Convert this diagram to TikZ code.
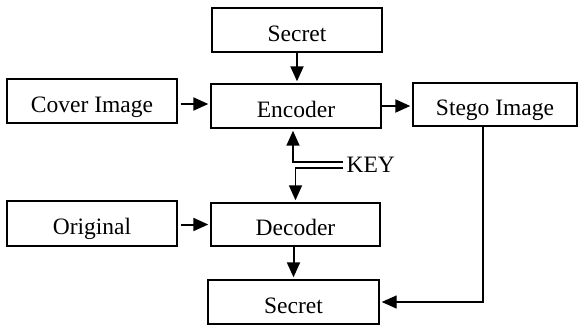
\documentclass[tikz,border=0pt]{standalone}
\usepackage{fontspec}
\setmainfont{Liberation Serif}
\usetikzlibrary{arrows.meta}
\begin{document}
\begin{tikzpicture}[
				x=1pt,y=-1pt,
				every node/.style={font=\fontsize{23.5}{27}\selectfont},
				box/.style={draw,line width=1.4pt,minimum height=44pt,text height=22pt,text depth=0pt,inner sep=0pt},
				arr/.style={line width=2pt,-{Triangle[length=15pt,width=13pt]},shorten >=2pt},
			]
			\useasboundingbox (0,0) rectangle (578,327);

			\node[box,minimum width=170pt] (secretin) at (297,30) {Secret};
			\node[box,minimum width=170pt] (encoder) at (296,106) {Encoder};
			\node[box,minimum width=170pt] (cover) at (92,101) {Cover Image};
			\node[box,minimum width=164pt,minimum height=43pt] (stego) at (495,104.5) {Stego Image};
			\node[box,minimum width=170pt,minimum height=45pt] (original) at (92,223.5) {Original};
			\node[box,minimum width=169pt,minimum height=43pt] (decoder) at (295.5,224.5) {Decoder};
			\node[box,minimum width=171pt] (secretout) at (293.5,302) {Secret};
			\node[anchor=west] (key) at (343,165) {KEY};

			\draw[arr] (secretin.south) -- (secretin.south |- encoder.north);
			\draw[arr,shorten <=3pt] ([yshift=-3pt]cover.east) -- ([yshift=-3pt]cover.east -| encoder.west);
			\draw[arr] (encoder.east) -- (encoder.east -| stego.west);
			\draw[arr,line width=1.6pt] ([yshift=3pt]key.west) -| ([xshift=-3pt]encoder.south);
			\draw[arr,line width=1.6pt] ([yshift=-3pt]key.west) -| (decoder.north);
			\draw[arr,shorten <=3pt] ([yshift=-1pt]original.east) -- ([yshift=-1pt]original.east -| decoder.west);
			\draw[arr] ([xshift=-2pt]decoder.south) -- ([xshift=-2pt]decoder.south |- secretout.north);
			\draw[arr,line width=1.4pt] ([xshift=-12pt]stego.south) |- (secretout.east);

		\end{tikzpicture}
\end{document}
